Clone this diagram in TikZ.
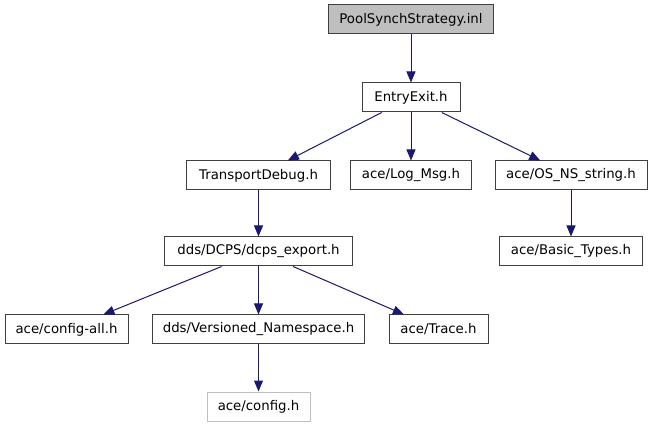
\documentclass[tikz,border=0pt]{standalone}
\usepackage{fontspec}
\setmainfont{DejaVu Sans}
\usetikzlibrary{arrows.meta}
\definecolor{edgeblue}{HTML}{191970}
\definecolor{boxgray}{HTML}{BFBFBF}
\begin{document}
\begin{tikzpicture}[x=1pt,y=-1pt,
  file/.style={draw=black!75,line width=1pt,fill=white,minimum height=29pt,inner xsep=0pt,
    font=\fontsize{13.3}{16}\selectfont,text=black},
  dep/.style={draw=edgeblue,line width=1pt,-{Triangle[length=11pt,width=9pt]}}]
\useasboundingbox (0,0) rectangle (653,427);
\node[file,fill=boxgray,minimum width=165pt] (pool) at (411,19.5) {PoolSynchStrategy.inl};
\node[file,minimum width=98pt] (entry) at (411,97.5) {EntryExit.h};
\node[file,minimum width=144pt] (tdebug) at (258.5,175.5) {TransportDebug.h};
\node[file,minimum width=121pt] (logmsg) at (411,175.5) {ace/Log\_Msg.h};
\node[file,minimum width=152pt] (osns) at (571,175.5) {ace/OS\_NS\_string.h};
\node[file,minimum width=188pt] (dcps) at (258.5,251.5) {dds/DCPS/dcps\_export.h};
\node[file,minimum width=143pt] (basic) at (571,251.5) {ace/Basic\_Types.h};
\node[file,minimum width=123pt] (cfgall) at (66.5,329.5) {ace/config-all.h};
\node[file,minimum width=212pt] (vers) at (258.5,329.5) {dds/Versioned\_Namespace.h};
\node[file,minimum width=99pt] (trace) at (438.5,329.5) {ace/Trace.h};
\node[file,draw=boxgray,minimum width=103pt] (cfg) at (258.5,406.5) {ace/config.h};
\draw[dep] (pool) -- (entry);
\draw[dep] (entry) -- (tdebug);
\draw[dep] (entry) -- (logmsg);
\draw[dep] (entry) -- (osns);
\draw[dep] (tdebug) -- (dcps);
\draw[dep] (osns) -- (basic);
\draw[dep] (dcps) -- (cfgall);
\draw[dep] (dcps) -- (vers);
\draw[dep] (dcps) -- (trace);
\draw[dep] (vers) -- (cfg);
\end{tikzpicture}
\end{document}
